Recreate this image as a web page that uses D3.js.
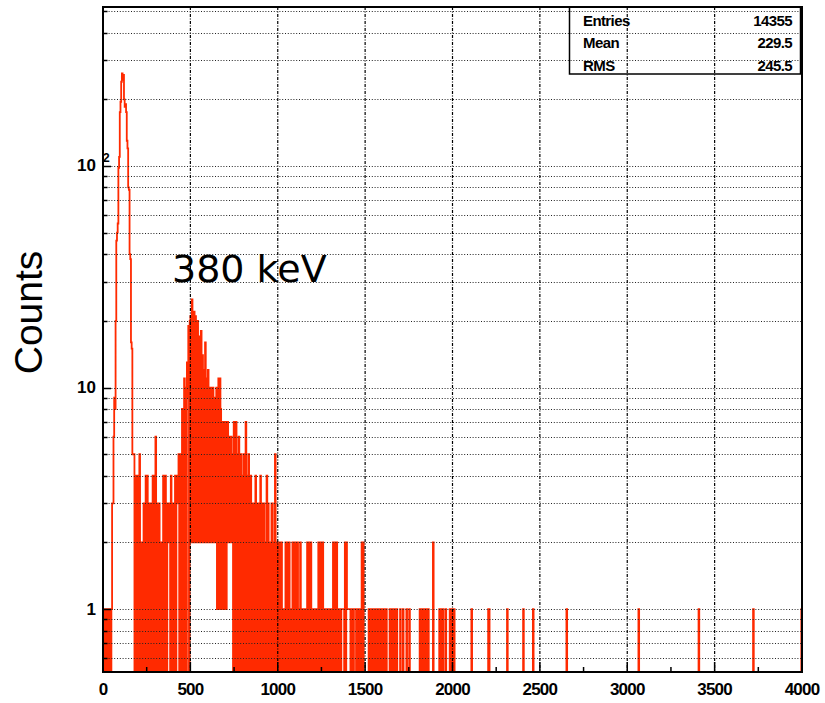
<!DOCTYPE html>
<html><head><meta charset="utf-8">
<script src="https://cdn.jsdelivr.net/npm/d3@7"></script>
<style>body{margin:0;background:#fff;} svg{display:block;}</style>
</head><body>
<svg id="c" width="825" height="703"></svg>
<script>
// ---- data ----
const binWidth = 4;               // channel width (x units)
const xMin = 0, xMax = 4000;
const xTickValues = [0,500,1000,1500,2000,2500,3000,3500,4000];
const yMajorTicks = [1,10,100];
const statsLabels = ["Entries","Mean","RMS"];
const statsValues = ["14355","229.5","245.5"];
const yTitle = "Counts";
const peakLabel = "380 keV";

// counts per 4-unit channel, channels 0..499 (each row = 100 units)
const counts = [
/*   0 */ 0,1,0,1,1,0,1,0,0,1,1,0,1,3,3,6,9,8,20,46,50,55,98,110,175,
/* 100 */ 195,240,262,245,258,200,185,190,175,130,120,80,78,40,38,16,15,5,5,5,0,4,3,0,4,
/* 200 */ 0,4,5,0,2,0,2,0,3,3,0,4,0,4,3,0,3,0,3,3,0,4,4,0,3,
/* 300 */ 6,0,3,0,3,3,0,2,0,2,0,4,0,3,4,0,0,3,2,2,3,0,4,0,3,
/* 400 */ 3,0,3,4,0,4,3,3,5,0,5,0,5,8,0,7,11,0,10,0,13,9,19,0,20,
/* 500 */ 21,2,25,18,2,22,2,21,16,2,20,2,17,12,2,18,2,14,2,12,2,16,2,11,2,
/* 600 */ 12,2,10,9,2,10,2,10,8,2,9,2,10,1,9,11,1,11,8,1,7,1,7,6,1,
/* 700 */ 7,1,6,7,2,6,2,5,6,2,5,0,7,0,6,7,0,5,0,6,4,0,5,0,4,
/* 800 */ 0,5,0,4,7,0,4,0,5,0,4,4,0,3,0,3,3,0,4,0,3,0,2,3,0,
/* 900 */ 4,0,3,0,2,3,0,2,0,4,0,3,0,2,2,0,3,0,2,0,3,5,0,2,0,
/*1000 */ 2,0,2,2,0,2,0,1,0,1,0,2,0,2,2,0,2,0,1,1,0,2,0,2,2,
/*1100 */ 0,2,0,2,1,0,1,2,0,1,0,1,1,0,1,0,1,2,0,2,0,2,2,0,1,
/*1200 */ 0,1,0,1,1,0,1,0,2,0,1,2,0,2,2,0,1,0,1,0,1,1,0,1,0,
/*1300 */ 1,0,1,0,2,0,2,2,0,2,0,1,0,1,1,0,1,1,1,1,0,2,0,2,1,
/*1400 */ 1,1,1,1,0,1,0,1,0,1,1,1,0,1,0,1,0,1,1,0,2,0,2,0,0,
/*1500 */ 0,0,0,0,0,1,0,1,0,1,1,0,1,0,1,0,1,0,0,1,0,1,0,0,1,
/*1600 */ 0,0,1,0,0,1,0,0,0,0,1,0,1,1,0,1,0,0,1,0,1,0,0,0,0,
/*1700 */ 1,0,0,0,1,0,0,0,0,1,0,0,0,1,0,0,0,0,0,0,0,0,0,0,0,
/*1800 */ 0,0,0,1,0,1,0,0,1,1,0,0,1,0,0,1,0,0,0,0,0,0,2,0,0,
/*1900 */ 0,0,0,0,0,0,1,0,0,1,0,1,0,0,0,1,0,0,0,0,0,1,0,1,0
];
// sparse tail: channel index -> count (channels 500..999)
const tailChannels = [500,502,527,551,552,578,601,615,663,766,852,930,999];
const tailCounts   = [1,1,1,1,1,1,1,1,1,1,1,1,1];

// ---- build ----
const nBins = (xMax - xMin) / binWidth;
const allCounts = new Array(nBins).fill(0);
counts.forEach((c,i)=>{ allCounts[i]=c; });
tailChannels.forEach((ch,i)=>{ allCounts[ch]=tailCounts[i]; });

const svg = d3.select("#c");
const L=103, R=802, T=7, B=672;
const x = d3.scaleLinear().domain([xMin,xMax]).range([L,R]);
const y = d3.scaleLog().domain([0.52,522]).range([B,T]);
const RED = "#ff2a00";

svg.append("rect").attr("width",825).attr("height",703).attr("fill","#fff");
svg.append("defs").append("clipPath").attr("id","clip")
  .append("rect").attr("x",L).attr("y",T).attr("width",R-L).attr("height",B-T);

// histogram outline (zero bins drop below the frame)
const pts = [];
allCounts.forEach((c,i)=>{
  const v = c > 0 ? c : 0.2;
  const x0 = xMin + i*binWidth, x1 = x0 + binWidth;
  pts.push([x(x0), y(v)], [x(x1), y(v)]);
});
svg.append("path").attr("clip-path","url(#clip)")
  .attr("d", d3.line()(pts))
  .attr("fill","none").attr("stroke",RED).attr("stroke-width",1.8)
  .attr("stroke-linejoin","miter");

// grid
const g = svg.append("g");
const yGrid = [];
[0.1,1,10,100].forEach(d=>{ for(let m=1;m<=9;m++){ const v=m*d; if(v>y.domain()[0] && v<y.domain()[1]) yGrid.push(v);} });
g.selectAll(".hg").data(yGrid).join("line")
  .attr("x1",L).attr("x2",R).attr("y1",d=>Math.round(y(d))+0.5).attr("y2",d=>Math.round(y(d))+0.5)
  .attr("stroke","#222").attr("stroke-width",1).attr("stroke-dasharray","1,1.8");
g.selectAll(".vg").data(xTickValues.filter(v=>v>xMin && v<xMax)).join("line")
  .attr("y1",T).attr("y2",B).attr("x1",d=>x(d)).attr("x2",d=>x(d))
  .attr("stroke","#000").attr("stroke-width",1.2).attr("stroke-dasharray","3,1.5,1,1.5");

// stats box
const sb = svg.append("g");
sb.append("rect").attr("x",569.5).attr("y",7).attr("width",231).attr("height",67)
  .attr("fill","none").attr("stroke","#000").attr("stroke-width",1.5);
statsLabels.forEach((s,i)=>{
  const yy = 20 + i*22.5;
  sb.append("text").attr("x",583).attr("y",yy).attr("dominant-baseline","central")
    .attr("font-family","Liberation Sans, Arial, sans-serif").attr("font-weight","bold")
    .attr("font-size",15).attr("letter-spacing",-0.6).text(s);
  sb.append("text").attr("x",792).attr("y",yy).attr("dominant-baseline","central").attr("text-anchor","end")
    .attr("font-family","Liberation Sans, Arial, sans-serif").attr("font-weight","bold")
    .attr("font-size",15).attr("letter-spacing",-0.6).text(statsValues[i]);
});

// frame
svg.append("rect").attr("x",L).attr("y",T).attr("width",R-L).attr("height",B-T)
  .attr("fill","none").attr("stroke","#000").attr("stroke-width",2);

// y ticks (inside)
svg.selectAll(".yt").data(yGrid).join("line")
  .attr("x1",L).attr("x2",d=>L+(yMajorTicks.includes(d)?8:4.5))
  .attr("y1",d=>Math.round(y(d))+0.5).attr("y2",d=>Math.round(y(d))+0.5)
  .attr("stroke","#000").attr("stroke-width",1.5);
// x ticks (inside)
const xMinor = d3.range(xMin, xMax+1, 250);
svg.selectAll(".xt").data(xMinor).join("line")
  .attr("x1",d=>x(d)).attr("x2",d=>x(d)).attr("y1",B)
  .attr("y2",d=>B-(d%500===0?10:5))
  .attr("stroke","#000").attr("stroke-width",1.5);

// tick labels
const tf = "Liberation Sans, Arial, sans-serif";
svg.selectAll(".xl").data(xTickValues).join("text")
  .attr("x",d=>x(d)).attr("y",689).attr("text-anchor","middle").attr("dominant-baseline","central")
  .attr("font-family",tf).attr("font-weight","bold").attr("font-size",17).attr("letter-spacing",-0.8)
  .text(d=>d3.format("d")(d));
const ylab = svg.append("g");
ylab.append("text").attr("x",96).attr("y",y(1)).attr("text-anchor","end").attr("dominant-baseline","central")
  .attr("font-family",tf).attr("font-weight","bold").attr("font-size",17).text("1");
ylab.append("text").attr("x",96).attr("y",y(10)).attr("text-anchor","end").attr("dominant-baseline","central")
  .attr("font-family",tf).attr("font-weight","bold").attr("font-size",17).text("10");
ylab.append("text").attr("x",96).attr("y",y(100)).attr("text-anchor","end").attr("dominant-baseline","central")
  .attr("font-family",tf).attr("font-weight","bold").attr("font-size",17).text("10");
ylab.append("text").attr("x",103).attr("y",y(100)-8).attr("text-anchor","start").attr("dominant-baseline","central")
  .attr("font-family",tf).attr("font-weight","bold").attr("font-size",12).text("2");

// axis title
svg.append("text").attr("transform",`translate(42,${(248+377)/2}) rotate(-90)`)
  .attr("text-anchor","middle").attr("font-family",tf).attr("font-size",39).text(yTitle);

// annotation
svg.append("text").attr("x",172).attr("y",282)
  .attr("font-family","DejaVu Sans, sans-serif").attr("font-size",38).attr("fill","#000").text(peakLabel);
</script>
</body></html>
